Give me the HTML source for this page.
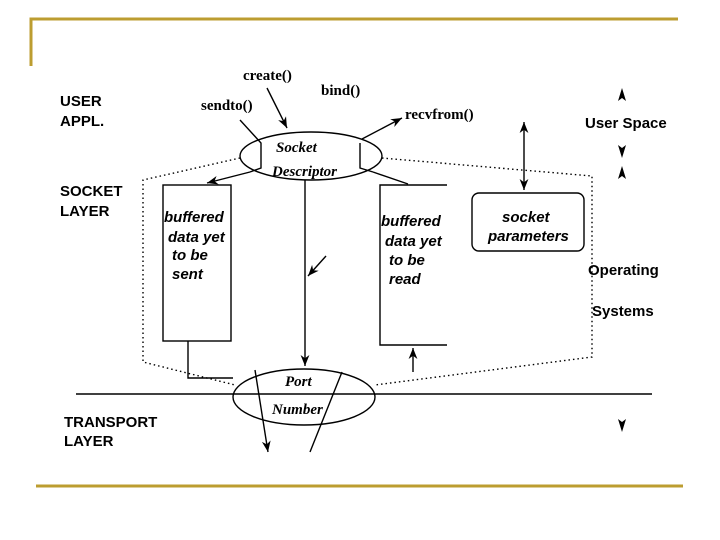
<!DOCTYPE html>
<html><head><meta charset="utf-8"><style>
html,body{margin:0;padding:0;background:#fff;width:720px;height:540px;overflow:hidden}
svg{display:block}
.s{font-family:"Liberation Sans",sans-serif;font-weight:bold;font-size:15px;fill:#000}
.si{font-family:"Liberation Sans",sans-serif;font-weight:bold;font-style:italic;font-size:15px;fill:#000}
.r{font-family:"Liberation Serif",serif;font-weight:bold;font-size:15px;fill:#000}
.ri{font-family:"Liberation Serif",serif;font-weight:bold;font-style:italic;font-size:15px;fill:#000}
</style></head><body>
<svg width="720" height="540" viewBox="0 0 720 540">
<defs>
<marker id="a" viewBox="0 0 10 10" refX="10" refY="5" markerWidth="11" markerHeight="11" markerUnits="userSpaceOnUse" orient="auto"><path d="M0,1 L10,5 L0,9 L3,5 z" fill="#000"/></marker>
<marker id="b" viewBox="0 0 10 10" refX="0" refY="5" markerWidth="11" markerHeight="11" markerUnits="userSpaceOnUse" orient="auto"><path d="M10,1 L0,5 L10,9 L7,5 z" fill="#000"/></marker>
</defs>
<path d="M31,66 V19 H678" fill="none" stroke="#bc9d30" stroke-width="3"/>
<line x1="36" y1="486" x2="683" y2="486" stroke="#bc9d30" stroke-width="3"/>

<g stroke="#000" stroke-width="1.4" fill="none">
<path d="M240,158 L143,180 V362 L235,385" stroke-dasharray="1.5,3"/>
<path d="M382,158 L592,176 V357 L375,385" stroke-dasharray="1.5,3"/>
<ellipse cx="311" cy="156" rx="71" ry="24"/>
<path d="M240,120 L261,143 V168 L250,172"/>
<path d="M360,143 V168 L373,172"/>
<ellipse cx="304" cy="397" rx="71" ry="28"/>
<line x1="76" y1="394" x2="652" y2="394"/>
<rect x="163" y="185" width="68" height="156"/>
<path d="M447,185 H380 V345 H447"/>
<rect x="472" y="193" width="112" height="58" rx="7"/>
<line x1="267" y1="88" x2="287" y2="128" marker-end="url(#a)"/>
<line x1="362" y1="139" x2="402" y2="118" marker-end="url(#a)"/>
<line x1="250" y1="172" x2="207" y2="183" marker-end="url(#a)"/>
<path d="M373,172 L408,184"/>
<line x1="305" y1="180" x2="305" y2="366" marker-end="url(#a)"/>
<line x1="326" y1="256" x2="308" y2="276" marker-end="url(#a)"/>
<line x1="413" y1="372" x2="413" y2="348" marker-end="url(#a)"/>
<path d="M188,341 V378 H233"/>
<line x1="255" y1="370" x2="268" y2="452" marker-end="url(#a)"/>
<line x1="342" y1="372" x2="310" y2="452"/>
<line x1="524" y1="122" x2="524" y2="190" marker-start="url(#b)" marker-end="url(#a)"/>
</g>
<g fill="#000">
<path d="M622,88 L618,101 L622,98 L626,101 z"/>
<path d="M622,158 L618,145 L622,148 L626,145 z"/>
<path d="M622,166 L618,179 L622,176 L626,179 z"/>
<path d="M622,432 L618,419 L622,422 L626,419 z"/>
</g>
<text class="s" x="60" y="106">USER</text>
<text class="s" x="60" y="126">APPL.</text>
<text class="s" x="60" y="196">SOCKET</text>
<text class="s" x="60" y="216">LAYER</text>
<text class="s" x="64" y="427">TRANSPORT</text>
<text class="s" x="64" y="446">LAYER</text>
<text class="s" x="585" y="128">User Space</text>
<text class="s" x="588" y="275">Operating</text>
<text class="s" x="592" y="316">Systems</text>
<text class="r" x="243" y="80">create()</text>
<text class="r" x="321" y="95">bind()</text>
<text class="r" x="201" y="110">sendto()</text>
<text class="r" x="405" y="119">recvfrom()</text>
<text class="ri" x="276" y="152">Socket</text>
<text class="ri" x="272" y="176">Descriptor</text>
<text class="ri" x="285" y="386">Port</text>
<text class="ri" x="272" y="414">Number</text>
<text class="si" x="164" y="222">buffered</text>
<text class="si" x="168" y="242">data yet</text>
<text class="si" x="172" y="260">to be</text>
<text class="si" x="172" y="279">sent</text>
<text class="si" x="381" y="226">buffered</text>
<text class="si" x="385" y="246">data yet</text>
<text class="si" x="389" y="265">to be</text>
<text class="si" x="389" y="284">read</text>
<text class="si" x="502" y="222">socket</text>
<text class="si" x="488" y="241">parameters</text>
</svg>
</body></html>
